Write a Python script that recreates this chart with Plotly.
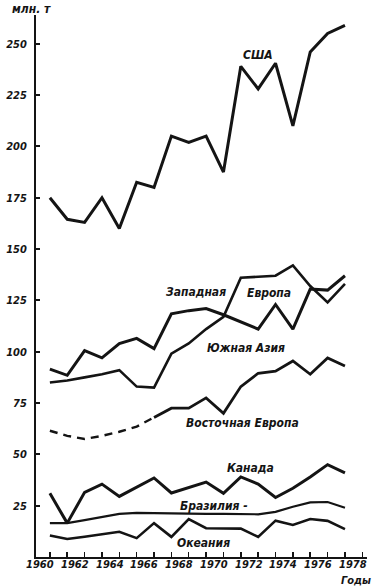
import plotly.graph_objects as go

years = list(range(1960, 1978))

usa = [175, 164.5, 163, 175, 160, 182.5, 180, 205, 202, 205, 187.5, 239, 228, 240.5, 210, 246, 255, 259]
# line reaching ~137 at the end (label "Южная Азия" lies below it in 1971-74)
south_asia = [91.5, 88.5, 100.5, 97, 104, 106.5, 101.5, 118.5, 120, 121, 118, 114.5, 111, 123, 111, 130.5, 130, 137]
# line reaching ~133 at the end (label "Западная Европа")
west_europe = [85, 86, 87.5, 89, 91, 83, 82.5, 99, 104, 111, 117, 136, 136.5, 137, 142, 132, 124, 133]
east_europe_years_est = [1960, 1961, 1962, 1963, 1964, 1965, 1966]
east_europe_est = [61.5, 59, 57.5, 59, 61, 63.5, 68]
east_europe_years = list(range(1966, 1978))
east_europe = [68, 72.5, 72.5, 77.5, 70, 83, 89.5, 90.5, 95.5, 89, 97, 93]
canada = [31, 16.5, 31.5, 35.5, 29.5, 34, 38.5, 31.2, 34, 36.5, 31, 39, 35.5, 29, 33.5, 39, 45, 41]
brazil = [16.5, 16.5, 18, 19.5, 21, 21.5, 21.3, 21.2, 21, 21, 21, 21, 20.8, 22, 24.5, 26.6, 26.8, 24]
oceania = [10.5, 8.8, 9.9, 11.1, 12.3, 9.2, 16.5, 9.8, 18.5, 14, 13.8, 13.8, 9.8, 17.7, 15.6, 18.5, 17.6, 13.6]

y_ticks = [25, 50, 75, 100, 125, 150, 175, 200, 225, 250]
x_label_years = [1960, 1962, 1964, 1966, 1968, 1970, 1972, 1974, 1976, 1978]

labels = [
    ("США", 1972.0, 244.6),
    ("Западная", 1968.4, 129.1),
    ("Европа", 1972.6, 128.7),
    ("Южная Азия", 1971.3, 101.9),
    ("Восточная Европа", 1971.1, 65.3),
    ("Канада", 1971.55, 43.4),
    ("Бразилия -", 1969.45, 24.9),
    ("Океания", 1968.85, 6.8),
]

INK = "#141414"
FONT = "DejaVu Sans Condensed, DejaVu Sans, sans-serif"

fig = go.Figure()

def line(x, y, name, width=2.8, dash="solid"):
    fig.add_trace(go.Scatter(x=x, y=y, mode="lines", name=name,
                             line=dict(color=INK, width=width, dash=dash,
                                       shape="linear"),
                             showlegend=False, hoverinfo="skip"))

line(years, usa, "США", 3)
line(years, south_asia, "Южная Азия", 3)
line(years, west_europe, "Западная Европа", 2.6)
line(east_europe_years_est, east_europe_est, "Восточная Европа (оценка)", 2.4, "8px,6px")
line(east_europe_years, east_europe, "Восточная Европа", 2.8)
line(years, canada, "Канада", 3)
line(years, brazil, "Бразилия", 2.2)
line(years, oceania, "Океания", 2.6)

lab_font = dict(family=FONT, size=12, color=INK, style="italic", weight="bold")
for text, x, y in labels:
    fig.add_annotation(x=x, y=y, text=text, showarrow=False, font=lab_font,
                       xanchor="center", yanchor="middle")

# x tick labels (printed slightly to the left of their ticks in the original)
tick_font = dict(family=FONT, size=11, color=INK, style="italic", weight="bold")
for yr in x_label_years:
    fig.add_annotation(x=yr - 0.55, xref="x", yref="paper", y=0, yshift=1,
                       text=str(yr), showarrow=False, font=tick_font,
                       xanchor="center", yanchor="top")

fig.add_annotation(xref="paper", yref="paper", x=-0.08, y=1.0, yshift=6,
                   text="млн. т", showarrow=False, font=lab_font,
                   xanchor="left", yanchor="middle")
fig.add_annotation(xref="paper", yref="paper", x=0.968, y=0, yshift=-23,
                   text="Годы", showarrow=False, font=tick_font,
                   xanchor="center", yanchor="middle")

fig.update_layout(
    width=373, height=587,
    margin=dict(l=33, r=6, t=15, b=30),
    paper_bgcolor="white", plot_bgcolor="white",
    xaxis=dict(range=[1959.2, 1978.27], showgrid=False, zeroline=False,
               showline=True, linecolor=INK, linewidth=2,
               tickmode="linear", tick0=1960, dtick=1,
               ticks="inside", ticklen=5, tickwidth=1.5, tickcolor=INK,
               showticklabels=False),
    yaxis=dict(range=[0, 264], showgrid=False, zeroline=False,
               showline=True, linecolor=INK, linewidth=2,
               tickmode="array", tickvals=y_ticks,
               ticktext=[str(v) for v in y_ticks],
               ticks="inside", ticklen=4, tickwidth=2, tickcolor=INK,
               ticklabelstandoff=5, tickfont=tick_font),
)

fig.write_html("out.html",
               config={"displayModeBar": False, "staticPlot": True},
               post_script="document.body.style.margin='0';document.body.style.overflow='hidden';")
